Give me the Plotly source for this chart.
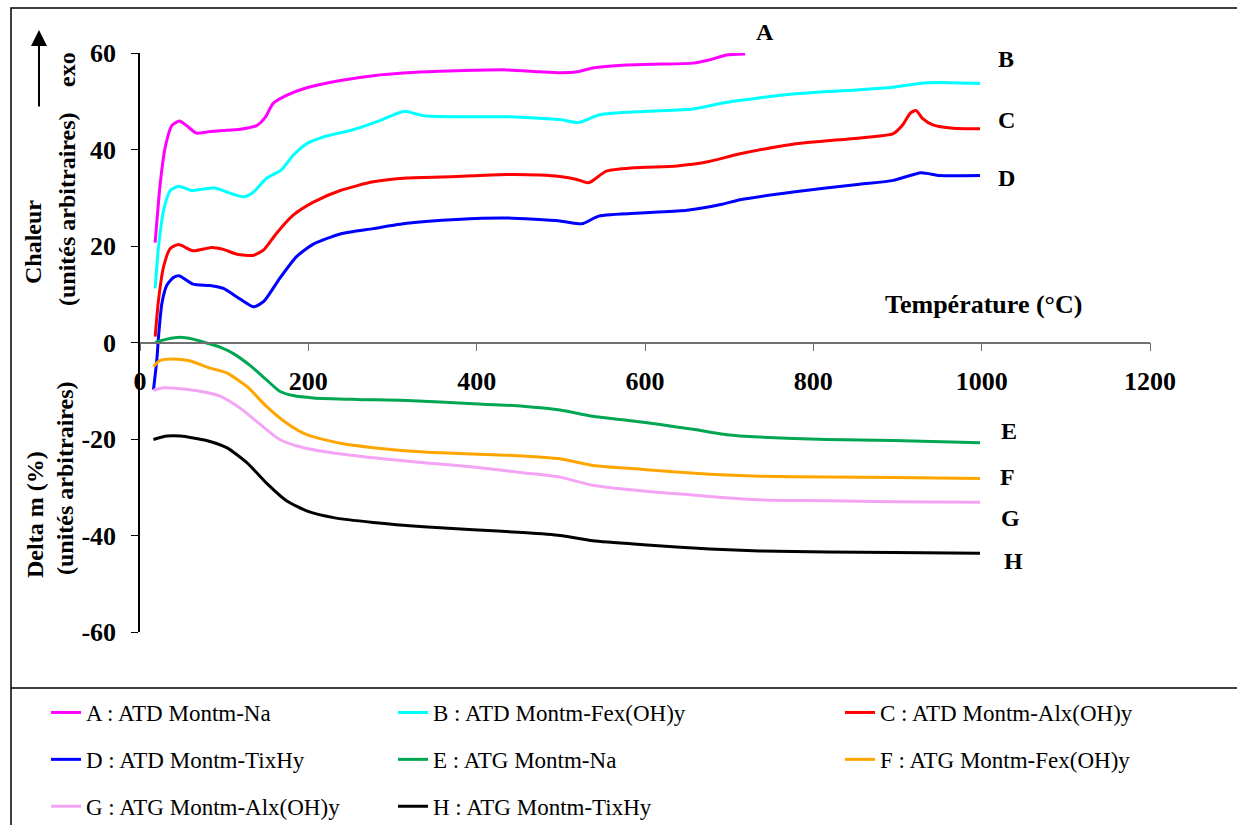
import plotly.graph_objects as go

# ---------------- data ----------------
t_A = [18, 24, 30, 38, 47, 55, 67, 79, 95, 119, 139, 149, 158, 174, 198, 238, 277, 317, 356, 396, 436, 475, 499, 519, 538, 578, 618, 657, 677, 697, 719]
v_A = [20.7, 32.9, 40.5, 45.0, 45.9, 45.0, 43.4, 43.6, 43.9, 44.2, 45.0, 46.7, 49.5, 51.2, 52.8, 54.3, 55.3, 55.9, 56.2, 56.4, 56.5, 56.1, 55.9, 56.1, 56.9, 57.5, 57.7, 57.9, 58.6, 59.6, 59.8]

t_B = [18, 22, 28, 36, 46, 61, 75, 89, 103, 123, 135, 150, 168, 182, 198, 218, 253, 285, 313, 337, 376, 436, 475, 499, 521, 546, 598, 657, 697, 776, 855, 895, 926, 950, 998]
v_B = [11.2, 19.8, 27.4, 31.5, 32.4, 31.5, 31.8, 32.0, 31.2, 30.2, 31.2, 34.0, 35.8, 38.8, 41.2, 42.6, 44.1, 46.0, 47.9, 47.0, 46.8, 46.8, 46.5, 46.2, 45.6, 47.2, 47.9, 48.4, 49.8, 51.5, 52.4, 52.9, 53.7, 53.9, 53.7]

t_C = [18, 22, 28, 36, 46, 63, 85, 99, 115, 135, 147, 162, 182, 206, 238, 277, 317, 376, 436, 475, 499, 519, 533, 554, 586, 638, 673, 713, 776, 855, 895, 907, 915, 922, 930, 942, 966, 998]
v_C = [1.2, 8.8, 15.7, 19.5, 20.3, 19.0, 19.7, 19.3, 18.3, 18.1, 19.2, 22.6, 26.4, 29.1, 31.5, 33.3, 34.1, 34.4, 34.8, 34.7, 34.4, 33.8, 33.1, 35.5, 36.2, 36.6, 37.4, 39.1, 41.1, 42.4, 43.3, 45.3, 47.5, 48.1, 46.4, 45.1, 44.4, 44.3]

t_D = [16, 20, 22, 26, 32, 40, 47, 63, 83, 99, 119, 135, 147, 166, 186, 206, 238, 277, 317, 376, 436, 499, 525, 545, 600, 650, 690, 713, 776, 855, 895, 928, 950, 998]
v_D = [-9.8, -3.6, 1.2, 8.1, 11.9, 13.5, 13.8, 12.1, 11.8, 11.2, 9.0, 7.4, 8.5, 13.3, 17.8, 20.4, 22.5, 23.6, 24.7, 25.5, 25.8, 25.2, 24.6, 26.2, 26.9, 27.4, 28.6, 29.6, 31.2, 32.8, 33.6, 35.2, 34.6, 34.6]

t_E = [18, 32, 48, 63, 79, 95, 111, 131, 150, 166, 182, 206, 257, 317, 396, 455, 499, 538, 578, 618, 657, 697, 736, 816, 895, 998]
v_E = [0.0, 0.7, 1.1, 0.7, -0.1, -0.96, -2.3, -4.8, -7.7, -10.1, -11.0, -11.5, -11.8, -12.0, -12.7, -13.2, -14.0, -15.3, -16.1, -17.0, -18.0, -19.1, -19.6, -20.1, -20.3, -20.8]

t_F = [16, 24, 40, 59, 83, 103, 127, 150, 174, 198, 238, 277, 337, 396, 455, 499, 538, 598, 677, 736, 816, 895, 998]
v_F = [-5.0, -3.7, -3.4, -3.8, -5.3, -6.3, -9.1, -13.2, -16.7, -19.1, -20.9, -21.8, -22.7, -23.1, -23.5, -24.1, -25.5, -26.3, -27.3, -27.7, -27.9, -28.0, -28.2]

t_G = [16, 28, 48, 71, 95, 119, 143, 166, 190, 222, 277, 337, 396, 455, 499, 538, 598, 677, 736, 816, 895, 998]
v_G = [-9.9, -9.4, -9.6, -10.1, -11.1, -13.6, -17.0, -20.1, -21.6, -22.7, -23.9, -24.9, -25.8, -27.0, -27.9, -29.6, -30.8, -31.9, -32.6, -32.8, -33.0, -33.1]

t_H = [16, 32, 48, 79, 103, 127, 150, 174, 198, 230, 277, 337, 396, 455, 499, 538, 598, 677, 736, 816, 895, 998]
v_H = [-20.1, -19.4, -19.4, -20.3, -21.8, -24.9, -29.1, -32.8, -34.9, -36.3, -37.3, -38.2, -38.8, -39.4, -40.0, -41.1, -41.9, -42.8, -43.2, -43.4, -43.5, -43.7]

series_names = [
    "A : ATD Montm-Na", "B : ATD Montm-Fex(OH)y", "C : ATD Montm-Alx(OH)y",
    "D : ATD Montm-TixHy", "E : ATG Montm-Na", "F : ATG Montm-Fex(OH)y",
    "G : ATG Montm-Alx(OH)y", "H : ATG Montm-TixHy",
]
curve_letters = ["A", "B", "C", "D", "E", "F", "G", "H"]
x_ticks = [0, 200, 400, 600, 800, 1000, 1200]
x_tick_labels = ["0", "200", "400", "600", "800", "1000", "1200"]
y_ticks = [-60, -40, -20, 0, 20, 40, 60]
y_tick_labels = ["-60", "-40", "-20", "0", "20", "40", "60"]

# ---------------- styling ----------------
colors = ["#FF00FF", "#00FFFF", "#FF0000", "#0000FF", "#00A651", "#FFA500", "#F4A4F4", "#000000"]
legend_of = ["legend", "legend2", "legend3", "legend", "legend2", "legend3", "legend", "legend2"]
SERIF = "Liberation Serif, Times New Roman, serif"

xs = [t_A, t_B, t_C, t_D, t_E, t_F, t_G, t_H]
ys = [v_A, v_B, v_C, v_D, v_E, v_F, v_G, v_H]

fig = go.Figure()
for i in range(8):
    fig.add_trace(go.Scatter(
        x=xs[i], y=ys[i], mode="lines", name=series_names[i],
        line=dict(color=colors[i], width=3, shape="spline", smoothing=0.6),
        legend=legend_of[i], legendgroup=curve_letters[i],
    ))

W, H = 1237, 825
ML, MR, MT, MB = 140, 87, 53, 193
PW, PH = W - ML - MR, H - MT - MB


def px(xp):
    return (xp - ML) / PW


def py(yp):
    return (H - MB - yp) / PH


tick_font = dict(family=SERIF, size=26, color="black", weight="bold")
fig.update_layout(
    width=W, height=H, autosize=False,
    margin=dict(l=ML, r=MR, t=MT, b=MB, autoexpand=False),
    paper_bgcolor="white", plot_bgcolor="white",
    xaxis=dict(range=[0, 1200], tickvals=x_ticks, ticktext=x_tick_labels, ticks="outside", ticklen=8,
               tickcolor="#707070", showline=True, linecolor="#707070", linewidth=1.5,
               showgrid=False, zeroline=False, anchor="free", position=0.5,
               tickfont=tick_font, ticklabelstandoff=8, automargin=False),
    yaxis=dict(range=[-60, 60], tickvals=y_ticks, ticktext=y_tick_labels, ticks="outside", ticklen=7,
               tickcolor="black", showline=True, linecolor="black", linewidth=1.5,
               showgrid=False, zeroline=False, tickfont=tick_font, ticklabelstandoff=10,
               automargin=False),
)

leg_common = dict(orientation="v", yanchor="top", xanchor="left", bgcolor="rgba(0,0,0,0)",
                  font=dict(family=SERIF, size=23, color="black"), tracegroupgap=14,
                  traceorder="grouped")
fig.update_layout(
    legend=dict(x=px(46), y=py(691), **leg_common),
    legend2=dict(x=px(393), y=py(691), **leg_common),
    legend3=dict(x=px(840), y=py(691), **leg_common),
)

# outer frame and legend separator
fig.add_shape(type="rect", xref="paper", yref="paper", x0=px(11), y0=py(830), x1=px(1245), y1=py(8),
              line=dict(color="black", width=1.5), layer="below")
fig.add_shape(type="line", xref="paper", yref="paper", x0=px(11), y0=py(688), x1=px(1245), y1=py(688),
              line=dict(color="black", width=1.5))

ann_font = dict(family=SERIF, size=24, color="black", weight="bold")


def label(text, xp, yp, angle=0, font=ann_font):
    fig.add_annotation(text=text, xref="paper", yref="paper", x=px(xp), y=py(yp),
                       xanchor="center", yanchor="middle", textangle=angle,
                       showarrow=False, font=font)


# axis titles
label("Température (°C)", 983, 304, font=dict(family=SERIF, size=26, color="black", weight="bold"))
label("Chaleur", 33, 242, -90)
label("(unités arbitraires)", 67, 209, -90)
label("exo", 67, 70, -90)
label("Delta m (%)", 35, 515, -90)
label("(unités arbitraires)", 65, 478, -90)

# exo arrow
fig.add_annotation(text="", xref="paper", yref="paper", x=px(39), y=py(30), ax=0, ay=78,
                   showarrow=True, arrowhead=2, arrowsize=1.6, arrowwidth=2, arrowcolor="black")

# curve letters
letter_pos = [(765, 32), (1006, 59), (1006, 120), (1006, 178), (1009, 431), (1007, 477), (1010, 518), (1013, 561)]
for L, (lx, ly) in zip(curve_letters, letter_pos):
    label(L, lx, ly)

fig.write_html("out.html")
